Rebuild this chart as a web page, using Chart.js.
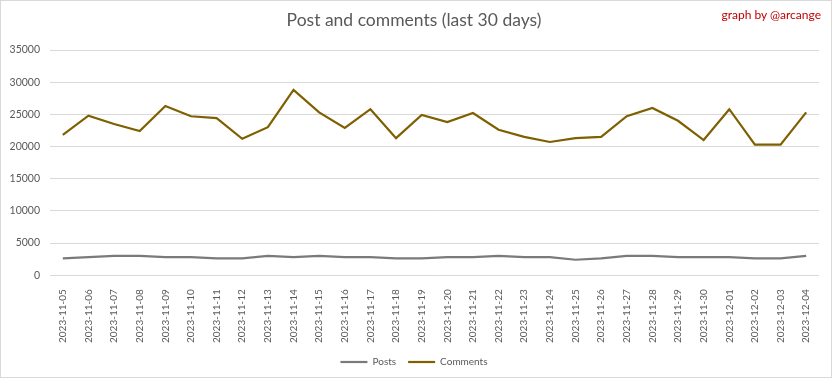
<!DOCTYPE html>
<html>
<head>
<meta charset="utf-8">
<script src="https://cdn.jsdelivr.net/npm/chart.js@4/dist/chart.umd.min.js"></script>
<style>
  html, body { margin: 0; padding: 0; background: #fff; }
  #wrap { position: relative; width: 832px; height: 378px; box-sizing: border-box; border: 1px solid #d9d9d9; }
  #cnv { display: block; }
  #credit { position: absolute; right: 10px; top: 6px; font: 12px Lato, sans-serif; color: #c00000; }
</style>
</head>
<body>
<div id="wrap">
  <canvas id="cnv" width="830" height="376"></canvas>
  <div id="credit">graph by @arcange</div>
</div>
<script>
// dados
const dias = [
  "2023-11-05","2023-11-06","2023-11-07","2023-11-08","2023-11-09","2023-11-10",
  "2023-11-11","2023-11-12","2023-11-13","2023-11-14","2023-11-15","2023-11-16",
  "2023-11-17","2023-11-18","2023-11-19","2023-11-20","2023-11-21","2023-11-22",
  "2023-11-23","2023-11-24","2023-11-25","2023-11-26","2023-11-27","2023-11-28",
  "2023-11-29","2023-11-30","2023-12-01","2023-12-02","2023-12-03","2023-12-04"
];
const posts = [
  2600, 2800, 3000, 3000, 2800, 2800, 2600, 2600, 3000, 2800,
  3000, 2800, 2800, 2600, 2600, 2800, 2800, 3000, 2800, 2800,
  2400, 2600, 3000, 3000, 2800, 2800, 2800, 2600, 2600, 3000
];
const comments = [
  21800, 24800, 23500, 22400, 26300, 24700, 24400, 21200, 23000, 28800,
  25300, 22900, 25800, 21300, 24900, 23800, 25200, 22600, 21500, 20700,
  21300, 21500, 24700, 26000, 24000, 21000, 25800, 20300, 20300, 25300
];

const fonte = "Lato, 'Liberation Sans', sans-serif";
const cinza = "#595959";

new Chart(document.getElementById("cnv"), {
  type: "line",
  data: {
    labels: dias,
    datasets: [
      { label: "Posts", data: posts, borderColor: "#7a7a7a", backgroundColor: "#7a7a7a",
        borderWidth: 2.2, pointRadius: 0, tension: 0 },
      { label: "Comments", data: comments, borderColor: "#7f6000", backgroundColor: "#7f6000",
        borderWidth: 2.2, pointRadius: 0, tension: 0 }
    ]
  },
  options: {
    responsive: false, animation: false,
    layout: { padding: { left: 8, right: 12, top: 0, bottom: 0 } },
    plugins: {
      title: {
        display: true, text: "Post and comments (last 30 days)",
        color: cinza, font: { family: fonte, size: 17.5, weight: "normal" },
        padding: { top: 9, bottom: 19 }
      },
      legend: {
        position: "bottom",
        labels: {
          color: cinza, font: { family: fonte, size: 10 },
          usePointStyle: true, pointStyle: "line", pointStyleWidth: 27, padding: 12
        }
      },
      tooltip: { enabled: false }
    },
    scales: {
      x: {
        offset: true,
        grid: { display: false }, border: { display: false },
        ticks: { color: cinza, font: { family: fonte, size: 10 }, minRotation: 90, maxRotation: 90, autoSkip: false, padding: 6 },
        afterFit: s => { s.height -= 4; }
      },
      y: {
        min: 0, max: 35000,
        grid: { color: "#d9d9d9", drawTicks: false }, border: { display: false },
        ticks: { stepSize: 5000, color: cinza, font: { family: fonte, size: 10.5 }, padding: 10,
                 callback: v => String(v) },
        afterFit: s => { s.width = 41; }
      }
    }
  }
});
</script>
</body>
</html>
